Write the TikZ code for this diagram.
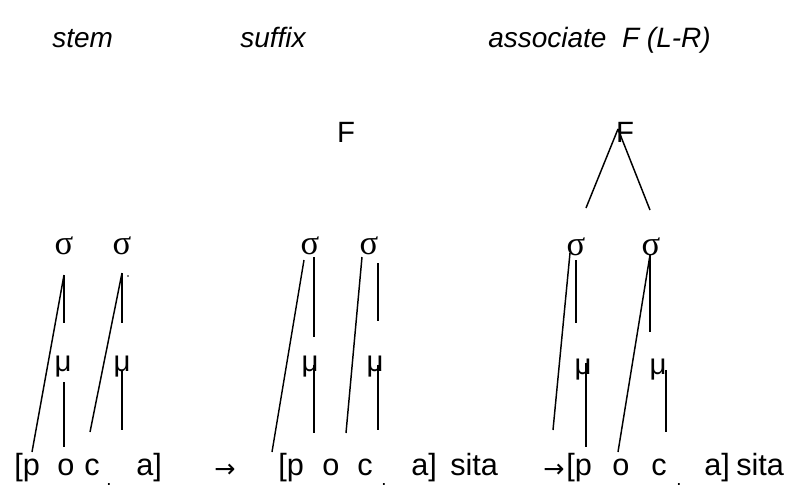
\documentclass[tikz,border=0pt]{standalone}
\usepackage{fontspec}
\setmainfont{Liberation Sans}
\newfontfamily\serfont{Liberation Serif}
\newfontfamily\arrfont{DejaVu Sans}
\begin{document}
\begin{tikzpicture}[x=0.75pt,y=-0.75pt,
  txt/.style={inner sep=0pt,anchor=base west,font=\fontsize{23}{27}\selectfont},
  ttl/.style={inner sep=0pt,anchor=base west,font=\fontsize{21}{25}\selectfont\itshape},
  sig/.style={inner sep=0pt,font=\serfont\fontsize{26}{30}\selectfont},
  mu/.style={inner sep=0pt,font=\fontsize{22}{26}\selectfont},
  ft/.style={inner sep=0pt,font=\fontsize{22}{26}\selectfont},
  dotl/.style={inner sep=0pt,anchor=base west,font=\fontsize{14}{16}\selectfont},
  arr/.style={inner sep=0pt,anchor=west,font=\arrfont\fontsize{19}{22}\selectfont},
  ln/.style={line width=1.1pt}]
\useasboundingbox[fill=white] (0,0) rectangle (794,490);

% titles
\node[ttl] (t1) at (52,47) {stem};
\node[ttl] (t2) at (240,47) {suffix};
\node[ttl] (t3) at (488,47) {associate\ \ F (L-R)};

% ---------- panel 1 ----------
\node[sig] (s1) at (64,246) {σ};
\node[sig] (s2) at (122,246) {σ};
\node[mu] (m1) at (63,367) {μ};
\node[mu] (m2) at (122,367) {μ};
\node[txt] (p1) at (14,475) {[p};
\node[txt] (o1) at (57,475) {o};
\node[txt] (c1) at (84,475) {c};
\node[dotl] (d1) at (106,485) {.};
\node[txt] (a1) at (136,475) {a]};
\node[arr] (r1) at (214,471) {→};

\coordinate (A1) at (64,275); \coordinate (A2) at (32,452);
\coordinate (A3) at (64,323);
\coordinate (A4) at (64,382); \coordinate (A5) at (64,447);
\coordinate (B1) at (122,273); \coordinate (B2) at (90,432);
\coordinate (B3) at (122,323);
\coordinate (B4) at (122,370); \coordinate (B5) at (122,430);
\draw[ln] (A1) -- (A2);
\draw[ln] (A1) -- (A3);
\draw[ln] (A4) -- (A5);
\draw[ln] (B1) -- (B2);
\draw[ln] (B1) -- (B3);
\draw[ln] (B4) -- (B5);
\fill (128,276) circle (0.9);

% ---------- panel 2 ----------
\node[ft] (f1) at (346,132) {F};
\node[sig] (s3) at (310,246) {σ};
\node[sig] (s4) at (369,246) {σ};
\node[mu] (m3) at (310,367) {μ};
\node[mu] (m4) at (375,367) {μ};
\node[txt] (p2) at (278,475) {[p};
\node[txt] (o2) at (322,475) {o};
\node[txt] (c2) at (357,475) {c};
\node[dotl] (d2) at (381,485) {.};
\node[txt] (a2) at (411,475) {a]};
\node[txt] (w2) at (450,475) {sita};
\node[arr] (r2) at (543,471) {→};

\coordinate (C1) at (304,260); \coordinate (C2) at (272,452);
\coordinate (C3) at (314,257); \coordinate (C4) at (314,337);
\coordinate (C5) at (314,365); \coordinate (C6) at (314,433);
\coordinate (D1) at (362,257); \coordinate (D2) at (346,433);
\coordinate (D3) at (378,263); \coordinate (D4) at (378,321);
\coordinate (D5) at (378,365); \coordinate (D6) at (378,430);
\draw[ln] (C1) -- (C2);
\draw[ln] (C3) -- (C4);
\draw[ln] (C5) -- (C6);
\draw[ln] (D1) -- (D2);
\draw[ln] (D3) -- (D4);
\draw[ln] (D5) -- (D6);

% ---------- panel 3 ----------
\node[ft] (f2) at (625,132) {F};
\node[sig] (s5) at (576,247) {σ};
\node[sig] (s6) at (651,247) {σ};
\node[mu] (m5) at (583,370) {μ};
\node[mu] (m6) at (658,370) {μ};
\node[txt] (p3) at (566,475) {[p};
\node[txt] (o3) at (612,475) {o};
\node[txt] (c3) at (651,475) {c};
\node[dotl] (d3) at (676,485) {.};
\node[txt] (a3) at (704,475) {a]};
\node[txt] (w3) at (736,475) {sita};

\coordinate (G0) at (618,129);
\coordinate (G1) at (586,208); \coordinate (G2) at (650,210);
\draw[ln] (G0) -- (G1);
\draw[ln] (G0) -- (G2);
\coordinate (E1) at (570,253); \coordinate (E2) at (553,430);
\coordinate (E3) at (576,260); \coordinate (E4) at (576,323);
\coordinate (E5) at (586,363); \coordinate (E6) at (586,447);
\coordinate (H1) at (650,255); \coordinate (H2) at (618,452);
\coordinate (H3) at (650,332);
\coordinate (H4) at (666,370); \coordinate (H5) at (666,432);
\draw[ln] (E1) -- (E2);
\draw[ln] (E3) -- (E4);
\draw[ln] (E5) -- (E6);
\draw[ln] (H1) -- (H2);
\draw[ln] (H1) -- (H3);
\draw[ln] (H4) -- (H5);
\end{tikzpicture}
\end{document}
